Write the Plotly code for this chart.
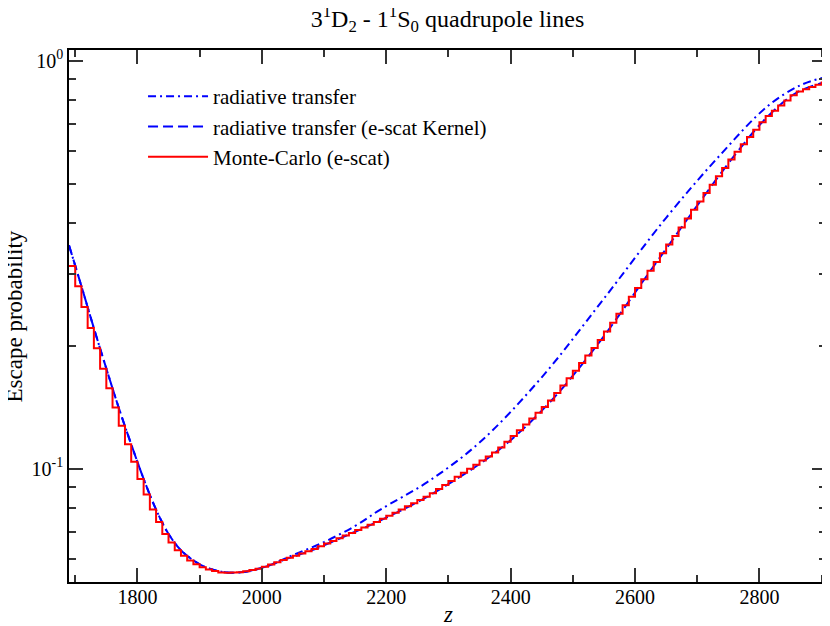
import numpy as np
import plotly.graph_objs as go

# radiative transfer (no e-scattering)
z_rt = [1690, 1710, 1730, 1750, 1770, 1790, 1810, 1830, 1850, 1870, 1890, 1910,
        1930, 1950, 1970, 1990, 2010, 2050, 2100, 2150, 2190, 2266, 2350, 2450,
        2550, 2650, 2734, 2813, 2866, 2909]
p_rt = [0.353, 0.280, 0.221, 0.176, 0.141, 0.1148, 0.0944, 0.0794, 0.0692, 0.0631,
        0.0596, 0.0573, 0.0561, 0.0556, 0.0558, 0.0566, 0.0578, 0.0614, 0.0661,
        0.0724, 0.0793, 0.0927, 0.1159, 0.1675, 0.2612, 0.4121, 0.5808, 0.773,
        0.871, 0.914]

# radiative transfer with e-scattering kernel
z_kern = [1690, 1710, 1730, 1750, 1770, 1790, 1810, 1830, 1850, 1870, 1890, 1910,
          1930, 1950, 1970, 1990, 2010, 2040, 2080, 2140, 2190, 2270, 2380, 2460,
          2540, 2620, 2700, 2760, 2810, 2860, 2910]
p_kern = [0.353, 0.280, 0.221, 0.176, 0.141, 0.1148, 0.0944, 0.0794, 0.0692, 0.0631,
          0.0596, 0.0573, 0.0561, 0.0556, 0.0558, 0.0566, 0.0578, 0.0601, 0.0631,
          0.0690, 0.0746, 0.0861, 0.1109, 0.1439, 0.2018, 0.2985, 0.4416, 0.5861,
          0.7211, 0.8356, 0.8892]

# Monte-Carlo histogram, bin left edges every 10 from 1690
mc_edges = list(range(1690, 2910, 10))
p_mc = [0.3141, 0.2799, 0.2489, 0.2213, 0.1972, 0.1758, 0.1574, 0.1413, 0.1274, 0.1148,
        0.1040, 0.0944, 0.0865, 0.0794, 0.0740, 0.0692, 0.0659, 0.0631, 0.0612, 0.0596,
        0.0583, 0.0573, 0.0566, 0.0561, 0.0557, 0.0556,
        0.05564, 0.05577, 0.05603, 0.05642, 0.05689, 0.05748, 0.05821, 0.05895, 0.05970, 0.06046,
        0.06115, 0.06194, 0.06273, 0.06360, 0.06457, 0.06554, 0.06653, 0.06753, 0.06855, 0.06958,
        0.07071, 0.07178, 0.07286, 0.07404, 0.07534, 0.07665, 0.07798, 0.07943, 0.08091, 0.08232,
        0.08375, 0.08531, 0.08710, 0.08913, 0.09120, 0.09333, 0.09550, 0.09772, 0.1000, 0.1023,
        0.1047, 0.1072, 0.1096, 0.1127, 0.1164, 0.1202, 0.1242, 0.1283, 0.1327, 0.1371,
        0.1416, 0.1469, 0.1533, 0.1600, 0.1667, 0.1739, 0.1816, 0.1895, 0.1977, 0.2068,
        0.2170, 0.2280, 0.2396, 0.2514, 0.2639, 0.2773, 0.2914, 0.3058, 0.3209, 0.3373,
        0.3544, 0.3719, 0.3903, 0.4102, 0.4309, 0.4519, 0.4737, 0.4966, 0.5206, 0.5458,
        0.5722, 0.5984, 0.6237, 0.6501, 0.6776, 0.7063, 0.7320, 0.7542, 0.7762, 0.7989,
        0.8232, 0.8404, 0.8511, 0.8620, 0.8730, 0.8841]

x_ticks = [1800, 2000, 2200, 2400, 2600, 2800]
y_ticks = [0.1, 1.0]
y_ticktext = ['10<sup>-1</sup>', '10<sup>0</sup>']
y_minor = [0.06, 0.07, 0.08, 0.09, 0.2, 0.3, 0.4, 0.5, 0.6, 0.7, 0.8, 0.9]

serif = 'Liberation Serif, Times New Roman, serif'

# close the last bin so the step line reaches the right edge
x_mc = mc_edges + [mc_edges[-1] + 10]
y_mc = p_mc + [p_mc[-1]]

trace_rt = go.Scatter(x=z_rt, y=p_rt, mode='lines', name='radiative transfer',
                      line=dict(color='#0000ff', width=2, dash='8px,4px,2px,4px', shape='spline'))
trace_kern = go.Scatter(x=z_kern, y=p_kern, mode='lines', name='radiative transfer (e-scat Kernel)',
                        line=dict(color='#0000ff', width=2, dash='10px,5px', shape='spline'))
trace_mc = go.Scatter(x=x_mc, y=y_mc, mode='lines', name='Monte-Carlo (e-scat)',
                      line=dict(color='#ff0000', width=2, shape='hv'))

# the page body has an 8px margin, so the figure is a bit smaller than the window
layout = go.Layout(
    width=822, height=618,
    margin=dict(l=61, r=4, t=42, b=44),
    plot_bgcolor='white', paper_bgcolor='white',
    font=dict(family=serif, size=20, color='black'),
    title=dict(text='3<sup>1</sup>D<sub>2</sub> - 1<sup>1</sup>S<sub>0</sub> quadrupole lines',
               x=0.5, xref='paper', xanchor='center', y=0.9968, yref='container', yanchor='top',
               font=dict(family=serif, size=24)),
    xaxis=dict(range=[1690, 2907], tickvals=x_ticks, ticks='inside', ticklen=14, tickwidth=1.5,
               tickcolor='#333', showline=True, linecolor='black', linewidth=1.5, mirror='ticks',
               showgrid=False, zeroline=False, automargin=False, ticklabelstandoff=-4,
               tickfont=dict(family=serif, size=20),
               minor=dict(dtick=100, ticks='inside', ticklen=7, tickwidth=1.5, tickcolor='#333',
                          showgrid=False)),
    yaxis=dict(type='log', range=[-1.2777, 0.0262], tickvals=y_ticks, ticktext=y_ticktext,
               ticks='inside', ticklen=14, tickwidth=1.5, tickcolor='#333',
               showline=True, linecolor='black', linewidth=1.5, mirror='ticks',
               showgrid=False, zeroline=False, automargin=False,
               tickfont=dict(family=serif, size=20),
               minor=dict(tickmode='array', tickvals=y_minor, ticks='inside', ticklen=7,
                          tickwidth=1.5, tickcolor='#333', showgrid=False)),
    annotations=[
        dict(text='<i>z</i>', x=0.5, xref='paper', y=-0.062, yref='paper',
             xanchor='center', yanchor='middle', showarrow=False, font=dict(size=23)),
        dict(text='Escape probability', x=-0.072, xref='paper', y=0.5, yref='paper',
             xanchor='center', yanchor='middle', textangle=-90, showarrow=False,
             font=dict(size=23)),
    ],
    legend=dict(x=0.0978, y=0.951, xanchor='left', yanchor='top', bgcolor='rgba(0,0,0,0)',
                font=dict(family=serif, size=21), tracegroupgap=0, itemwidth=60),
    showlegend=True,
)

fig = go.Figure(data=[trace_rt, trace_kern, trace_mc], layout=layout)
fig.write_html("out.html")
